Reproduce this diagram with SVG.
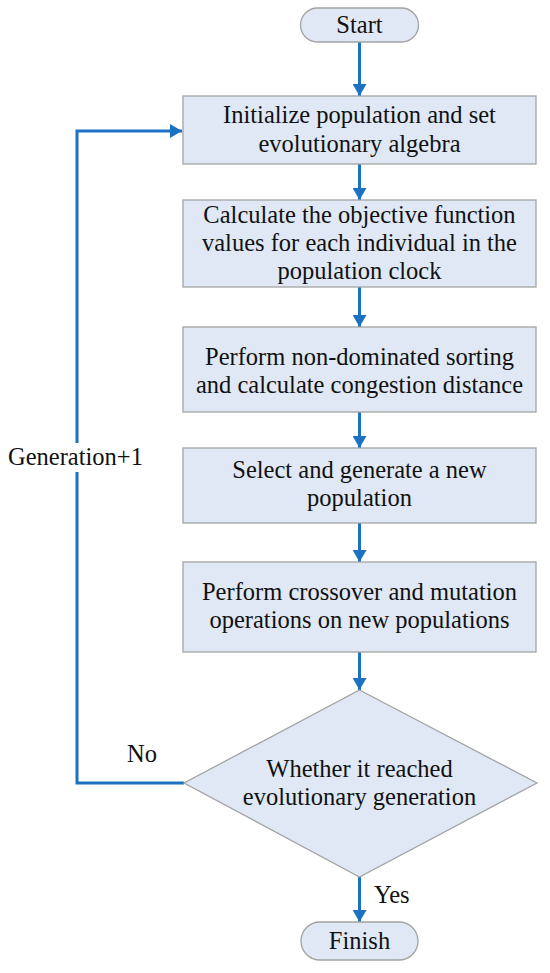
<svg xmlns="http://www.w3.org/2000/svg" width="550" height="973" viewBox="0 0 550 973">
<style>
.box{fill:#dfe8f4;stroke:#a3a3a3;stroke-width:1.3}
.t{font-family:"Liberation Serif","Times New Roman",serif;font-size:24.5px;fill:#111;text-anchor:middle}
.lbl{font-family:"Liberation Serif","Times New Roman",serif;font-size:24.5px;fill:#111}
.c{fill:none;stroke:#1b72c2;stroke-width:3}
</style>
<defs>
<marker id="ah" markerWidth="12" markerHeight="14" viewBox="0 0 12 14" refX="12" refY="7" orient="auto" markerUnits="userSpaceOnUse">
<path d="M0,0 L12,7 L0,14 Z" fill="#1b72c2"/>
</marker>
</defs>
<rect width="550" height="973" fill="#fff"/>
<g id="connectors">
<line class="c" x1="359.5" y1="42" x2="359.5" y2="96" marker-end="url(#ah)"/>
<line class="c" x1="359.5" y1="164" x2="359.5" y2="200" marker-end="url(#ah)"/>
<line class="c" x1="359.5" y1="287" x2="359.5" y2="327" marker-end="url(#ah)"/>
<line class="c" x1="359.5" y1="412" x2="359.5" y2="448" marker-end="url(#ah)"/>
<line class="c" x1="359.5" y1="523" x2="359.5" y2="562" marker-end="url(#ah)"/>
<line class="c" x1="359.5" y1="652" x2="359.5" y2="690" marker-end="url(#ah)"/>
<line class="c" x1="359.5" y1="877" x2="359.5" y2="922" marker-end="url(#ah)"/>
<path class="c" d="M184,783 H77 V131 H182" marker-end="url(#ah)"/>
<rect x="60" y="443" width="34" height="29" fill="#fff"/>
<text class="lbl" x="8" y="465">Generation+1</text>
<text class="lbl" x="127" y="762">No</text>
<text class="lbl" x="374" y="903">Yes</text>
</g>
<g id="start">
<rect class="box" x="300.5" y="8" width="118" height="34" rx="17"/>
<text class="t" x="359.5" y="33">Start</text>
</g>
<g id="init">
<rect class="box" x="183" y="96" width="353" height="68"/>
<text class="t" x="359.5" y="123">Initialize population and set</text>
<text class="t" x="359.5" y="152">evolutionary algebra</text>
</g>
<g id="calc">
<rect class="box" x="183" y="200" width="353" height="87"/>
<text class="t" x="359.5" y="223">Calculate the objective function</text>
<text class="t" x="359.5" y="251">values for each individual in the</text>
<text class="t" x="359.5" y="279">population clock</text>
</g>
<g id="sort">
<rect class="box" x="183" y="327" width="353" height="85"/>
<text class="t" x="359.5" y="365">Perform non-dominated sorting</text>
<text class="t" x="359.5" y="393">and calculate congestion distance</text>
</g>
<g id="select">
<rect class="box" x="183" y="448" width="353" height="75"/>
<text class="t" x="359.5" y="478">Select and generate a new</text>
<text class="t" x="359.5" y="506">population</text>
</g>
<g id="crossover">
<rect class="box" x="183" y="562" width="353" height="90"/>
<text class="t" x="359.5" y="600">Perform crossover and mutation</text>
<text class="t" x="359.5" y="628">operations on new populations</text>
</g>
<g id="decision">
<polygon class="box" points="359.5,690 537,783 359.5,877 184,783"/>
<text class="t" x="359.5" y="777">Whether it reached</text>
<text class="t" x="359.5" y="805">evolutionary generation</text>
</g>
<g id="finish">
<rect class="box" x="301" y="922" width="117" height="38" rx="19"/>
<text class="t" x="359.5" y="949">Finish</text>
</g>
</svg>
